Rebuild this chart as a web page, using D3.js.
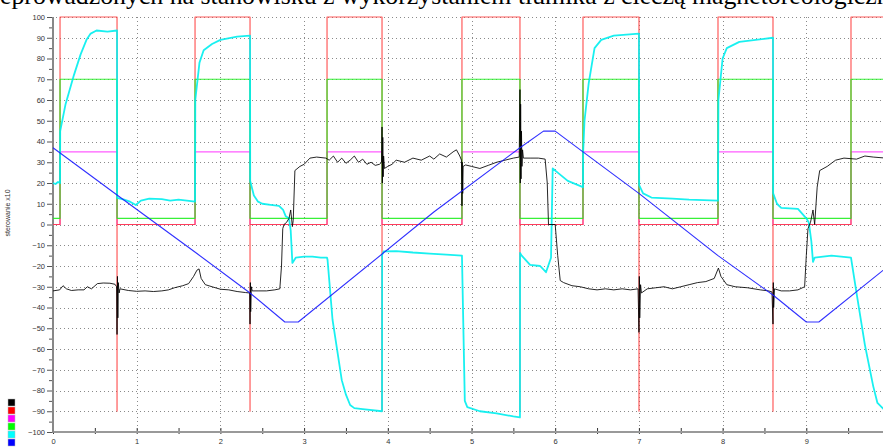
<!DOCTYPE html>
<html>
<head>
<meta charset="utf-8">
<script src="https://cdn.jsdelivr.net/npm/d3@7"></script>
<style>
  html, body { margin: 0; padding: 0; background: #fff; overflow: hidden; }
  svg { display: block; }
</style>
</head>
<body>
<svg id="chart" width="883" height="447"></svg>
<script>
// Switching instants of the control signal (rise, fall, rise, ...), seconds
const edgeTimes = [0.084, 0.765, 1.697, 2.354, 3.274, 3.931, 4.886, 5.579, 6.332, 7.001, 7.945, 8.602, 9.534];
const tEnd = 9.95;

// Levels of the piecewise-constant signals: [low, high]
const redLevels = [0, 100];
const redSpike = -90;
const magentaLevels = [0, 35];
const greenLevels = [3, 70];

// Measured response (black)
const blackData = [
  [0.00,-32],[0.08,-31.5],[0.12,-29.5],[0.16,-31],[0.22,-31.8],[0.3,-31.5],[0.37,-31.5],[0.41,-30],[0.46,-31],
  [0.53,-28.5],[0.6,-28.2],[0.68,-28.3],[0.74,-28.8],[0.76,-30],[0.765,-53],[0.77,-25],[0.775,-45],[0.78,-28],
  [0.79,-33],[0.80,-31],[0.9,-31.8],[1.0,-32.2],[1.1,-32],[1.2,-32.3],[1.3,-32],[1.38,-31.5],[1.45,-30.5],
  [1.55,-29.5],[1.62,-28.5],[1.68,-25],[1.72,-22],[1.745,-21.4],[1.77,-26],[1.82,-29],[1.9,-30],[2.0,-31.2],
  [2.1,-31.5],[2.2,-32.3],[2.3,-32.8],[2.35,-33],[2.354,-48],[2.358,-28],[2.362,-42],[2.37,-30],[2.38,-32],
  [2.45,-32],[2.55,-32],[2.65,-31.5],[2.71,-31],[2.73,-20],[2.745,-2],[2.76,0],[2.79,1],[2.82,3],[2.84,7],
  [2.86,-1],[2.87,2],[2.89,26],[2.95,28],[3.0,29],[3.07,32],[3.15,32.5],[3.26,32],
  [3.3,31],[3.35,33],[3.4,30],[3.45,32],[3.5,29.5],[3.55,31],[3.6,33],[3.65,30],[3.7,31.5],[3.75,29],[3.8,30],
  [3.85,28.5],[3.9,29],[3.925,30],[3.931,47],[3.935,20],[3.94,42],[3.945,23],[3.95,33],[3.96,27],[4.0,28],
  [4.05,29],[4.1,31],[4.2,30],[4.3,32],[4.4,31],[4.5,33],[4.55,31.5],[4.62,34],[4.7,32.5],[4.78,35],[4.82,36],
  [4.86,33],[4.88,31],[4.886,9],[4.89,30],[4.895,15],[4.9,28],[4.93,28.7],[5.0,28],[5.1,27],[5.2,28.5],[5.3,30],
  [5.4,31],[5.5,32],[5.57,32.5],[5.579,65],[5.583,20],[5.587,58],[5.592,22],[5.597,45],[5.603,28],[5.61,36],
  [5.62,32],[5.7,32],[5.8,32],[5.88,31.5],[5.905,20],[5.92,0],[6.0,0],[6.03,-15],[6.06,-27],[6.1,-28],
  [6.2,-29.5],[6.3,-30],[6.4,-31],[6.5,-31.5],[6.6,-31],[6.7,-31.5],[6.8,-31],[6.9,-31.5],[6.99,-31],
  [7.001,-52],[7.005,-25],[7.01,-45],[7.02,-29],[7.03,-33],[7.1,-31],[7.2,-30.5],[7.3,-30],[7.4,-31],[7.5,-30],
  [7.6,-29],[7.7,-28],[7.8,-27.5],[7.9,-26],[7.95,-21],[7.98,-25],[8.05,-29],[8.15,-30],[8.3,-30.5],[8.45,-31.5],
  [8.55,-32],[8.59,-32.5],[8.602,-48],[8.606,-28],[8.61,-40],[8.62,-31],[8.7,-32],[8.8,-32],[8.9,-31.5],
  [8.98,-30],[9.0,-15],[9.02,-2],[9.05,1],[9.08,7],[9.1,0],[9.13,18],[9.16,26],[9.25,28],[9.35,31],[9.45,32],
  [9.6,31.5],[9.7,33],[9.8,32.5],[9.95,32]
];

// Second measured signal (cyan)
const cyanData = [
  [0.00,20],[0.03,19.5],[0.06,20.5],[0.084,20],[0.086,45],[0.15,58],[0.25,72],[0.33,82],[0.40,89],[0.45,92],
  [0.52,93.5],[0.65,93],[0.765,93.5],[0.766,12.8],[0.85,12],[0.92,11],[0.99,9.4],[1.05,11.5],[1.15,12.5],
  [1.3,12.2],[1.4,11.5],[1.5,12],[1.6,11.5],[1.697,11],[1.70,60],[1.75,78],[1.80,84],[1.9,87],[2.0,89],
  [2.2,90.5],[2.354,91],[2.356,21],[2.40,14],[2.45,11],[2.5,10],[2.6,9.5],[2.7,9],[2.75,7],[2.78,4],[2.82,3],
  [2.84,-3],[2.86,-18.5],[2.9,-16],[3.0,-15.5],[3.1,-15.5],[3.2,-16],[3.274,-16],[3.28,-17],[3.34,-46],
  [3.45,-75],[3.5,-82],[3.55,-87],[3.6,-88.5],[3.7,-89],[3.931,-90],[3.932,-14.7],[3.95,-13],[4.1,-12.8],
  [4.3,-13.5],[4.5,-14],[4.7,-14.5],[4.886,-15],[4.92,-85],[4.95,-88],[5.1,-90],[5.3,-91],[5.5,-92.5],
  [5.579,-93],[5.58,-13.7],[5.6,-15],[5.70,-19.5],[5.82,-20],[5.89,-23],[5.95,-16],[5.97,27],[6.03,25],
  [6.15,21],[6.332,18],[6.334,35],[6.35,50],[6.40,68],[6.47,85],[6.55,89],[6.7,91],[7.001,92],[7.003,19],
  [7.05,15],[7.15,13],[7.4,12.5],[7.6,12],[7.945,11.5],[7.95,60],[8.0,80],[8.05,85],[8.2,88],[8.602,90],
  [8.604,15],[8.65,10],[8.7,8],[8.9,7.5],[9.0,3],[9.03,1],[9.06,-8],[9.08,-18],[9.1,-16],[9.3,-15],
  [9.534,-16],[9.6,-33],[9.7,-58],[9.8,-78],[9.85,-86],[9.95,-90]
];

// Reference trajectory (blue)
const blueData = [
  [0.00,37],[0.765,14.2],[1.72,-14],[2.354,-33],[2.77,-47],[2.93,-47],[4.55,6],[5.579,37],[5.86,45],[6.0,45],
  [6.332,35],[7.0,15],[7.945,-15],[8.602,-34],[9.0,-47],[9.15,-47],[9.95,-21]
];

const yTicks = d3.range(-100, 101, 10);
const xTicks = d3.range(0, 10, 1);

const titleText = "przeprowadzonych na stanowisku z wykorzystaniem tłumika z cieczą magnetoreologiczną";
const yAxisTitle = "sterowanie x10";
const legendColors = ["#000000", "#ff0000", "#ff00ff", "#00ff00", "#00ffff", "#0000ff"];

const svg = d3.select("#chart");
const x = d3.scaleLinear().domain([0, 10]).range([53, 890]);
const y = d3.scaleLinear().domain([-100, 100]).range([432, 17]);

// Piecewise-constant signal built from the switching instants
function stepSeries(levels, spike) {
  let state = 0;
  const pts = [[0, levels[0]]];
  edgeTimes.forEach(t => {
    const from = levels[state];
    state = 1 - state;
    pts.push([t, from]);
    if (state === 0 && spike !== undefined) pts.push([t, spike]);
    pts.push([t, levels[state]]);
  });
  pts.push([tEnd, levels[state]]);
  return pts;
}

// Title line of the surrounding document, running past the top edge
svg.append("text")
  .attr("x", -33).attr("y", 4)
  .attr("font-family", "Liberation Serif, Times New Roman, serif")
  .attr("font-size", 25.8)
  .attr("fill", "#000")
  .text(titleText);

// Grid
const grid = svg.append("g").attr("stroke", "#8a8a8a").attr("stroke-width", 1).attr("stroke-dasharray", "1,3");
grid.selectAll("line.h").data(yTicks.filter(d => d > -100)).enter().append("line")
  .attr("x1", 56).attr("x2", 883)
  .attr("y1", d => Math.round(y(d)) + 0.5).attr("y2", d => Math.round(y(d)) + 0.5);
grid.selectAll("line.v").data(xTicks.filter(d => d > 0)).enter().append("line")
  .attr("x1", d => Math.round(x(d)) + 0.5).attr("x2", d => Math.round(x(d)) + 0.5)
  .attr("y1", 17).attr("y2", 430);

// Axes
const yAxis = d3.axisLeft(y).tickValues(yTicks).tickSize(5).tickPadding(2).tickFormat(d3.format("d"));
const gy = svg.append("g").attr("transform", "translate(52,0)").call(yAxis);
gy.select(".domain").remove();
gy.selectAll("line").attr("stroke", "#555");
gy.selectAll("text").attr("font-family", "Liberation Sans, Arial, sans-serif").attr("font-size", 7.5).attr("fill", "#333");
const yMinor = d3.axisLeft(y).tickValues(d3.range(-95, 100, 10)).tickSize(3).tickFormat("");
const gym = svg.append("g").attr("transform", "translate(52,0)").call(yMinor);
gym.select(".domain").remove();
gym.selectAll("line").attr("stroke", "#555");

const xAxis = d3.axisBottom(x).tickValues(xTicks).tickSize(3).tickPadding(5).tickFormat(d3.format("d"));
const gx = svg.append("g").attr("transform", "translate(0,431)").call(xAxis);
gx.select(".domain").remove();
gx.selectAll("line").attr("stroke", "#333").attr("y1", -3);
gx.selectAll("text").attr("font-family", "Liberation Sans, Arial, sans-serif").attr("font-size", 7.5).attr("fill", "#333");
const xMinor = d3.axisBottom(x).tickValues(d3.range(0.5, 10, 1)).tickSize(3).tickFormat("");
const gxm = svg.append("g").attr("transform", "translate(0,431)").call(xMinor);
gxm.select(".domain").remove();
gxm.selectAll("line").attr("stroke", "#333").attr("y1", -3);

svg.append("line").attr("x1", 53).attr("x2", 883).attr("y1", 432).attr("y2", 432)
  .attr("stroke", "#999").attr("stroke-width", 2);
svg.append("line").attr("x1", 53).attr("x2", 53).attr("y1", 17).attr("y2", 433)
  .attr("stroke", "#888").attr("stroke-width", 2);

svg.append("text")
  .attr("transform", "translate(10,213) rotate(-90)")
  .attr("text-anchor", "middle")
  .attr("font-family", "Liberation Sans, Arial, sans-serif")
  .attr("font-size", 7)
  .attr("fill", "#333")
  .text(yAxisTitle);

// Series
const line = d3.line().x(d => x(d[0])).y(d => y(d[1]));
const plot = svg.append("g");
function draw(data, color, width, opacity) {
  plot.append("path").datum(data)
    .attr("fill", "none").attr("stroke", color)
    .attr("stroke-width", width).attr("stroke-opacity", opacity || 1)
    .attr("stroke-linejoin", "round")
    .attr("d", line);
}
draw(stepSeries(magentaLevels), "#ff33ff", 1.2, 0.8);
draw(stepSeries(redLevels, redSpike), "#ff3333", 1.2, 0.8);
draw(stepSeries(greenLevels), "#22ee22", 1.2, 0.9);
draw(cyanData, "#00eeee", 1.8, 0.9);
draw(blackData, "#000", 1, 0.85);
draw(blueData, "#1a1aff", 1.1, 0.9);

// Legend swatches
svg.append("g").selectAll("rect").data(legendColors).enter().append("rect")
  .attr("x", 8).attr("y", (d, i) => 399 + i * 8)
  .attr("width", 7).attr("height", 7)
  .attr("fill", d => d).attr("stroke", "#bbb").attr("stroke-width", 0.5);
</script>
</body>
</html>
